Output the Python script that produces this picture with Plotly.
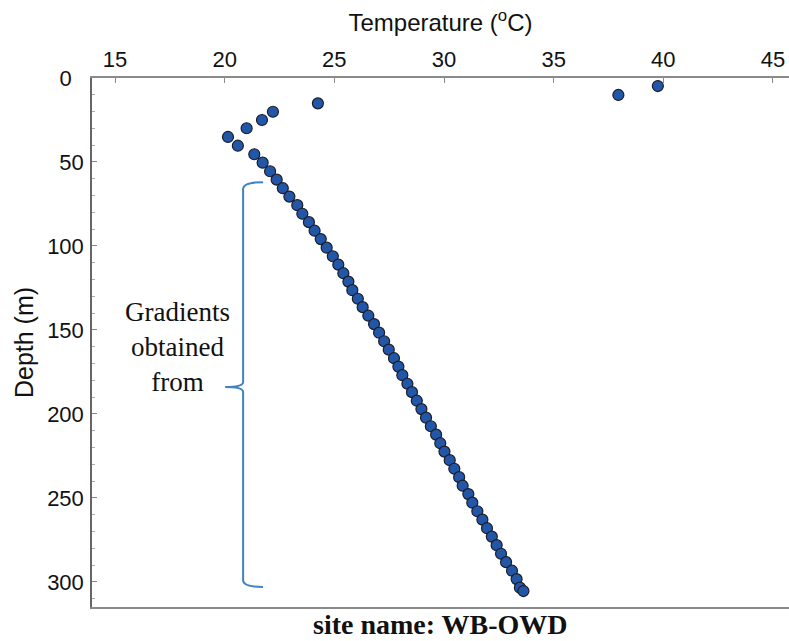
import plotly.graph_objects as go

# Depth (m) and temperature (°C) read from the profile
depth_m = [4.8, 10.1, 15.1, 20.1, 25.0, 29.9, 35.1, 40.3, 45.4, 50.4,
           55.5, 60.5, 65.6, 70.6, 75.7, 80.8, 85.8, 90.9, 95.9, 101.0,
           106.1, 111.1, 116.2, 121.2, 126.3, 131.4, 136.4, 141.5, 146.5, 151.6,
           156.7, 161.7, 166.8, 171.8, 176.9, 182.0, 187.0, 192.1, 197.1, 202.2,
           207.3, 212.3, 217.4, 222.4, 227.5, 232.6, 237.6, 242.7, 247.7, 252.8,
           257.9, 262.9, 268.0, 273.0, 278.1, 283.2, 288.2, 293.3, 298.3, 303.4,
           305.4]
temperature_c = [39.75, 37.95, 24.25, 22.20, 21.70, 21.00, 20.15, 20.60, 21.35, 21.73,
                 22.07, 22.37, 22.65, 22.95, 23.31, 23.54, 23.84, 24.10, 24.38, 24.65,
                 24.93, 25.18, 25.41, 25.64, 25.82, 26.07, 26.29, 26.55, 26.81, 27.04,
                 27.27, 27.48, 27.72, 27.92, 28.10, 28.33, 28.54, 28.76, 28.97, 29.18,
                 29.40, 29.64, 29.83, 30.02, 30.26, 30.47, 30.69, 30.85, 31.11, 31.29,
                 31.52, 31.75, 31.96, 32.18, 32.40, 32.60, 32.83, 33.10, 33.31, 33.46,
                 33.62]

x_ticks = [15, 20, 25, 30, 35, 40, 45]
y_ticks = [0, 50, 100, 150, 200, 250, 300]
y_tick_labels = ["0\u00a0\u00a0", "50", "100", "150", "200", "250", "300"]

# brace bounds (depths) for the annotated gradient interval
brace_top, brace_mid, brace_bottom = 62, 184, 303

fig = go.Figure()
fig.add_trace(go.Scatter(
    x=temperature_c, y=depth_m, mode="markers",
    marker=dict(size=11, color="#2257a8", line=dict(color="#1c1c2a", width=1.2)),
    showlegend=False, hoverinfo="x+y"))

# curly brace drawn in data coordinates
xv, xh, xt = 20.84, 21.75, 20.02
path = (f"M {xh},{brace_top} Q {xv},{brace_top} {xv},{brace_top+4} "
        f"L {xv},{brace_mid-3} Q {xv},{brace_mid} {xt},{brace_mid} "
        f"Q {xv},{brace_mid} {xv},{brace_mid+3} "
        f"L {xv},{brace_bottom-4} Q {xv},{brace_bottom} {xh},{brace_bottom}")
fig.add_shape(type="path", path=path, xref="x", yref="y",
              line=dict(color="#4282c2", width=2))

fig.add_annotation(x=17.85, y=160, xref="x", yref="y",
                   text="Gradients<br>obtained<br>from", showarrow=False,
                   font=dict(family="Liberation Serif", size=27, color="#111"),
                   align="center")

fig.add_annotation(x=0.5, y=0, xref="paper", yref="paper", yshift=-17,
                   text="<b>site name: WB-OWD</b>", showarrow=False,
                   yanchor="middle",
                   font=dict(family="Liberation Serif", size=28, color="#111"))

fig.update_layout(
    width=789, height=641,
    margin=dict(l=92, r=0, t=78, b=34),
    paper_bgcolor="white", plot_bgcolor="white",
    font=dict(family="Liberation Sans", color="#111"),
    xaxis=dict(side="top", range=[13.95, 45.73], tickvals=x_ticks,
               showgrid=False, zeroline=False,
               showline=True, linecolor="#8a8a8a", linewidth=1.5, mirror=True,
               ticks="inside", ticklen=5, tickcolor="#8a8a8a",
               tickfont=dict(size=22),
               title=dict(text="Temperature (<sup>o</sup>C)", font=dict(size=24), standoff=9)),
    yaxis=dict(range=[314.9, 0], tickvals=y_ticks, ticktext=y_tick_labels,
               showgrid=False, zeroline=False,
               showline=True, linecolor="#666", linewidth=1.5,
               ticks="inside", ticklen=5, tickcolor="#888",
               minor=dict(dtick=10, ticks="inside", ticklen=3, tickcolor="#aaa"),
               tickfont=dict(size=22), ticklabelstandoff=2,
               title=dict(text="Depth (m)", font=dict(size=25), standoff=6)),
)

fig.write_html("out.html")
